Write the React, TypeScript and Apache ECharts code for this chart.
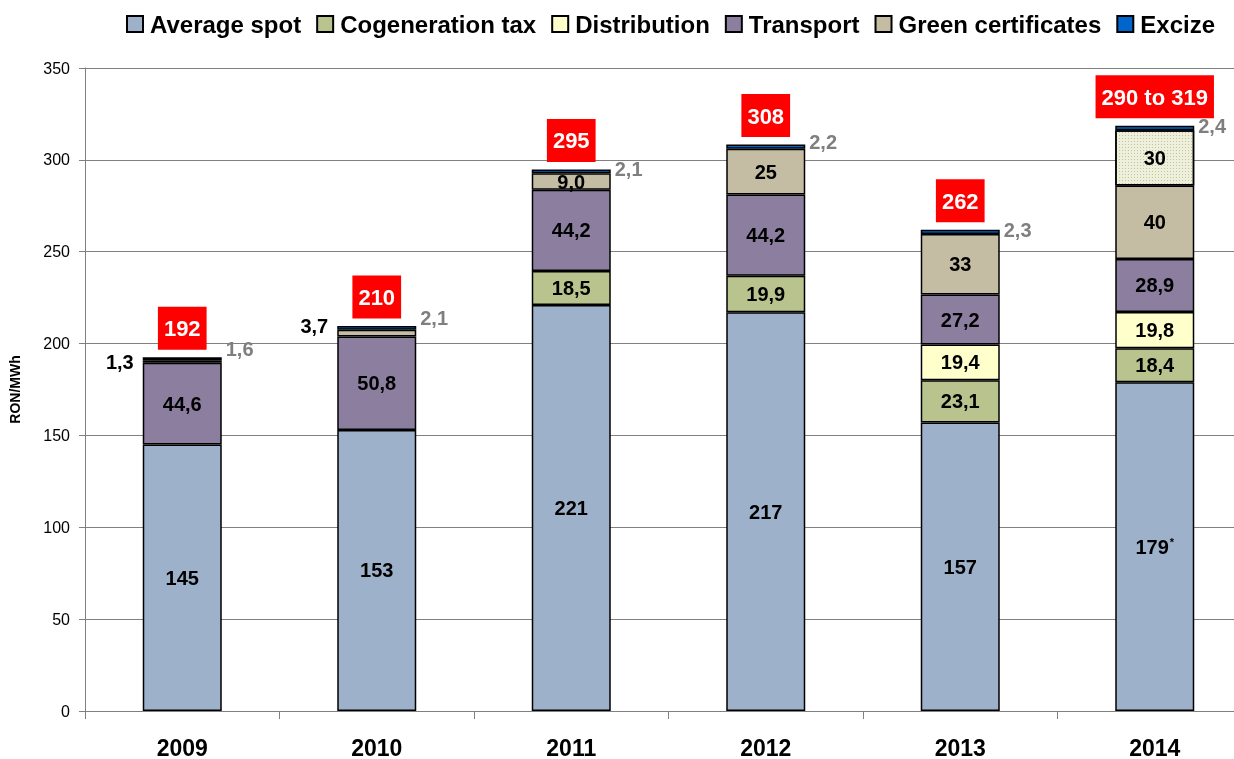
import React, { useEffect, useRef } from "react";
import * as echarts from "echarts";

const years = ["2009", "2010", "2011", "2012", "2013", "2014"];
const averageSpot = [145, 153, 221, 217, 157, 179];
const cogeneration = [null, null, 18.5, 19.9, 23.1, 18.4];
const distribution = [null, null, null, null, 19.4, 19.8];
const transport = [44.6, 50.8, 44.2, 44.2, 27.2, 28.9];
const greenCert = [1.3, 3.7, 9.0, 25, 33, 40];
const greenExtra = [null, null, null, null, null, 30];
const excize = [1.6, 2.1, 2.1, 2.2, 2.3, 2.4];
const totalLabels = ["192", "210", "295", "308", "262", "290 to 319"];
const greenLabels = ["1,3", "3,7", "9,0", "25", "33", "40"];
const yTicks = [0, 50, 100, 150, 200, 250, 300, 350];

const FONT = "'Liberation Sans', Arial, sans-serif";

const fmtDec = (v: number) => v.toFixed(1).replace(".", ",");

export default function App() {
  const ref = useRef<HTMLDivElement>(null);
  useEffect(() => {
    if (!ref.current) return;
    const chart = echarts.init(ref.current, null, { renderer: "svg" });
    const border = { borderColor: "#000", borderWidth: 1.5 };
    const inLabel = {
      show: true,
      position: "inside",
      color: "#000",
      fontFamily: FONT,
      fontWeight: "bold",
      fontSize: 20,
    };
    const totals = years.map((_, i) =>
      [averageSpot, cogeneration, distribution, transport, greenCert, greenExtra, excize].reduce(
        (s, arr) => s + ((arr[i] as number) || 0),
        0
      )
    );
    const barBase = { type: "bar", stack: "t", barWidth: 79 };
    chart.setOption({
      animation: false,
      textStyle: { fontFamily: FONT },
      legend: {
        data: ["Average spot", "Cogeneration tax", "Distribution", "Transport", "Green certificates", "Excize"],
        left: 121,
        top: 7,
        icon: "rect",
        itemWidth: 16,
        itemHeight: 16,
        itemGap: 15,
        textStyle: { fontFamily: FONT, fontWeight: "bold", fontSize: 24, color: "#000", padding: [0, 0, 0, 2] },
      },
      grid: { left: 83, top: 68, width: 1169, height: 644 },
      xAxis: {
        type: "category",
        data: years,
        axisLine: { lineStyle: { color: "#808080", width: 1 } },
        axisTick: { show: true, length: 8, lineStyle: { color: "#808080" } },
        axisLabel: { fontFamily: FONT, fontWeight: "bold", fontSize: 23, color: "#000", margin: 25 },
      },
      yAxis: {
        type: "value",
        min: yTicks[0],
        max: yTicks[yTicks.length - 1],
        interval: 50,
        name: "RON/MWh",
        nameLocation: "middle",
        nameGap: 63,
        nameTextStyle: { fontFamily: FONT, fontWeight: "bold", fontSize: 14, color: "#000" },
        axisLine: { show: true, lineStyle: { color: "#808080" } },
        axisTick: { show: true, length: 6, lineStyle: { color: "#808080" } },
        axisLabel: { fontFamily: FONT, fontSize: 16, color: "#000", margin: 15 },
        splitLine: { lineStyle: { color: "#808080", width: 1 } },
      },
      series: [
        {
          ...barBase,
          name: "Average spot",
          data: averageSpot,
          itemStyle: { color: "#9EB1CB", ...border },
          label: {
            ...inLabel,
            formatter: (p: any) => (p.dataIndex === 5 ? `{a|${p.value}}{s|*}` : `{a|${p.value}}`),
            rich: {
              a: { fontFamily: FONT, fontWeight: "bold", fontSize: 20, color: "#000" },
              s: { fontFamily: FONT, fontWeight: "bold", fontSize: 11, color: "#000", verticalAlign: "top", padding: [0, 0, 10, 1] },
            },
          },
        },
        {
          ...barBase,
          name: "Cogeneration tax",
          data: cogeneration,
          itemStyle: { color: "#B8C38E", ...border },
          label: { ...inLabel, formatter: (p: any) => fmtDec(p.value) },
        },
        {
          ...barBase,
          name: "Distribution",
          data: distribution,
          itemStyle: { color: "#FFFFCC", ...border },
          label: { ...inLabel, formatter: (p: any) => fmtDec(p.value) },
        },
        {
          ...barBase,
          name: "Transport",
          data: transport,
          itemStyle: { color: "#8B7E9F", ...border },
          label: { ...inLabel, formatter: (p: any) => fmtDec(p.value) },
        },
        {
          ...barBase,
          name: "Green certificates",
          data: greenCert.map((v, i) =>
            i < 2
              ? { value: v, label: { position: "left", distance: 9, offset: [0, i === 1 ? -7 : 1] } }
              : v
          ),
          itemStyle: { color: "#C4BDA3", ...border },
          label: { ...inLabel, formatter: (p: any) => greenLabels[p.dataIndex] },
        },
        {
          ...barBase,
          name: "Green extra",
          data: greenExtra,
          itemStyle: {
            color: "#EEF0DC",
            ...border,
            decal: {
              symbol: "rect",
              symbolSize: 1,
              color: "rgba(150,160,110,0.55)",
              dashArrayX: [1, 2],
              dashArrayY: [1, 2],
              rotation: 0,
            },
          },
          label: { ...inLabel, formatter: (p: any) => String(p.value) },
        },
        {
          ...barBase,
          name: "Excize",
          data: excize.map((v, i) =>
            i < 2 ? { value: v, label: { offset: [0, -10] } } : i === 3 ? { value: v, label: { offset: [0, -5] } } : v
          ),
          itemStyle: { color: "#0066CC", ...border },
          label: {
            show: true,
            position: "right",
            distance: 4,
            offset: [0, -2],
            color: "#7F7F7F",
            fontFamily: FONT,
            fontWeight: "bold",
            fontSize: 20,
            formatter: (p: any) => fmtDec(p.value),
          },
        },
        {
          type: "scatter",
          name: "Totals",
          data: totals,
          symbolSize: 1,
          itemStyle: { color: "transparent", opacity: 1 },
          silent: true,
          label: {
            show: true,
            position: "top",
            distance: 7,
            opacity: 1,
            formatter: (p: any) => totalLabels[p.dataIndex],
            backgroundColor: "#FF0000",
            color: "#FFFFFF",
            fontFamily: FONT,
            fontWeight: "bold",
            fontSize: 22,
            lineHeight: 26,
            padding: [9, 6, 8, 6],
          },
          z: 10,
        },
      ],
    });
    return () => chart.dispose();
  }, []);
  return (
    <div style={{ position: "fixed", left: 0, top: 0, width: 1234, height: 759, overflow: "hidden" }}>
      <div ref={ref} style={{ width: 1260, height: 759 }} />
    </div>
  );
}
